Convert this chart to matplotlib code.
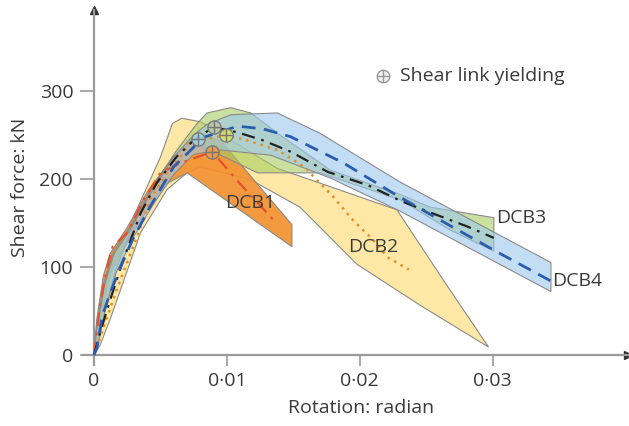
import matplotlib
matplotlib.use("Agg")
import matplotlib.pyplot as plt

plt.rcParams['font.family'] = ['Open Sans', 'DejaVu Sans']

# mean curves (rotation in rad, shear force in kN)
dcb1_x = [0, 0.0002, 0.0005, 0.0010, 0.0014, 0.0025, 0.0037, 0.0050, 0.0065,
          0.0089, 0.0112, 0.0133, 0.0136]
dcb1_v = [0, 25, 62, 100, 123, 139, 176, 207, 218, 231, 191, 157, 151]

dcb2_x = [0, 0.0008, 0.0017, 0.0035, 0.0042, 0.0055, 0.0067, 0.0072, 0.0099,
          0.0115, 0.0138, 0.0158, 0.0180, 0.0195, 0.0210, 0.0221, 0.0237]
dcb2_v = [0, 35, 74, 145, 176, 207, 229, 241, 250, 244, 233, 214, 180, 153,
          131, 111, 97]

dcb3_x = [0, 0.00045, 0.0012, 0.0022, 0.0035, 0.0047, 0.0062, 0.0075, 0.0090,
          0.0108, 0.0127, 0.0148, 0.0176, 0.0206, 0.0231, 0.0253, 0.0281,
          0.0301]
dcb3_v = [0, 25, 62, 108, 161, 195, 225, 244, 259, 253, 244, 231, 208, 193,
          175, 162, 146, 133]

dcb4_x = [0, 0.00023, 0.0006, 0.0012, 0.0020, 0.0029, 0.0042, 0.0060, 0.0075,
          0.0078, 0.0108, 0.0127, 0.0148, 0.0188, 0.0225, 0.0268, 0.0306,
          0.0344]
dcb4_v = [0, 9, 43, 70, 100, 131, 168, 214, 236, 245, 260, 257, 248, 218, 184,
          147, 115, 84]

# scatter envelopes: upper edge, then lower edge back to the origin
env1_up_x = [0, 0.0002, 0.0007, 0.0012, 0.0025, 0.0040, 0.0058, 0.0072, 0.0080,
             0.0095, 0.0149]
env1_up_v = [0, 40, 90, 115, 145, 185, 222, 242, 250, 244, 148]
env1_lo_x = [0.0149, 0.0070, 0.0055, 0.0040, 0.0025, 0.0013, 0.0006, 0.0002]
env1_lo_v = [123, 207, 195, 165, 128, 95, 50, 15]

env2_up_x = [0, 0.0002, 0.0007, 0.0014, 0.0025, 0.0033, 0.0050, 0.0059, 0.0066,
             0.0080, 0.0138, 0.0228, 0.0263, 0.0297]
env2_up_v = [0, 30, 80, 118, 140, 168, 225, 263, 269, 265, 212, 165, 85, 9]
env2_lo_x = [0.0297, 0.0246, 0.0198, 0.0155, 0.0118, 0.0080, 0.0070, 0.0055,
             0.0035, 0.0012, 0.00045]
env2_lo_v = [9, 56, 103, 168, 199, 214, 207, 188, 139, 40, 11]

env3_up_x = [0, 0.0002, 0.0008, 0.0015, 0.0027, 0.0042, 0.0061, 0.0077, 0.0085,
             0.0103, 0.0118, 0.0140, 0.0178, 0.0231, 0.0253, 0.0301]
env3_up_v = [0, 35, 85, 118, 145, 185, 230, 262, 275, 281, 275, 250, 210, 182,
             168, 156]
env3_lo_x = [0.0301, 0.0268, 0.0231, 0.0170, 0.0123, 0.0072, 0.0060, 0.0045,
             0.0030, 0.0016, 0.0008, 0.0003]
env3_lo_v = [118, 142, 176, 207, 207, 244, 225, 195, 150, 95, 50, 12]

env4_up_x = [0, 0.0002, 0.0008, 0.0015, 0.0027, 0.0042, 0.0060, 0.0075, 0.0085,
             0.0103, 0.0138, 0.0170, 0.0231, 0.0344]
env4_up_v = [0, 30, 80, 115, 142, 182, 225, 250, 262, 273, 275, 252, 196, 105]
env4_lo_x = [0.0344, 0.0231, 0.0178, 0.0133, 0.0095, 0.0075, 0.0060, 0.0045,
             0.0030, 0.0017, 0.0009, 0.0003]
env4_lo_v = [72, 163, 201, 227, 233, 228, 205, 172, 135, 95, 55, 12]

# shear link yielding points
yield_x = [0.0089, 0.0099, 0.0090, 0.0078]
yield_v = [231, 250, 259, 245]
yield_col = ['#f39a3c', '#d7e05a', '#b8c7a0', '#9fd3e8']

labels = ['DCB1', 'DCB2', 'DCB3', 'DCB4']
label_x = [0.0099, 0.0191, 0.0303, 0.0345]
label_v = [173, 123, 156, 84]

x_ticks = [0, 0.01, 0.02, 0.03]
x_tick_labels = ['0', '0·01', '0·02', '0·03']
y_ticks = [0, 100, 200, 300]

TXT = '#3a3a3a'
AX = '#9a9a9a'
EDGE = '#8a8a8a'

fig = plt.figure(figsize=(6.29, 4.26), dpi=100)
ax = fig.add_axes([0.132, 0.1432, 0.8664, 0.8333])

envs = [
    (env2_up_x + env2_lo_x, env2_up_v + env2_lo_v, '#ffe69c', 0.9, 1),
    (env1_up_x + env1_lo_x, env1_up_v + env1_lo_v, '#f39030', 0.92, 2),
    (env3_up_x + env3_lo_x, env3_up_v + env3_lo_v, '#a6cc62', 0.6, 3),
    (env4_up_x + env4_lo_x, env4_up_v + env4_lo_v, '#9cc8ee', 0.6, 4),
]
for ex, ev, col, a, z in envs:
    ax.fill(ex, ev, facecolor=col, alpha=a, edgecolor='none', zorder=z)
    ax.fill(ex, ev, facecolor='none', edgecolor=EDGE, lw=0.8, zorder=z)

ax.plot(dcb1_x, dcb1_v, color='#e8502a', lw=1.6, ls=(0, (6, 3, 1.2, 3)), zorder=6)
ax.plot(dcb2_x, dcb2_v, color='#e0902a', lw=1.8, ls=(0, (1, 2)), zorder=6)
ax.plot(dcb3_x, dcb3_v, color='#222222', lw=1.6, ls=(0, (6, 3, 1.2, 3)), zorder=6)
ax.plot(dcb4_x, dcb4_v, color='#2a5db0', lw=2.0, ls=(0, (5, 3)), zorder=6)

for x, v, c in zip(yield_x, yield_v, yield_col):
    ax.plot(x, v, 'o', ms=9.5, mfc=c, mec='#777777', mew=1.0, alpha=0.9, zorder=7)
    ax.plot(x, v, '+', ms=9.5, mec='#777777', mew=1.0, zorder=8)

for t, x, v in zip(labels, label_x, label_v):
    ax.text(x, v, t, fontsize=14, color=TXT, va='center', ha='left', zorder=9)

# legend entry
ax.plot(0.5505, 0.8145, 'o', ms=9, mfc='#f0f0f0', mec='#999999', mew=1.0,
        transform=ax.transAxes, clip_on=False)
ax.plot(0.5505, 0.8145, '+', ms=9, mec='#999999', mew=1.0,
        transform=ax.transAxes, clip_on=False)
ax.text(0.581, 0.8145, 'Shear link yielding', fontsize=14, color=TXT,
        va='center', ha='left', transform=ax.transAxes)

ax.set_xlim(-0.00083, 0.0402)
ax.set_ylim(-11.4, 392)
ax.spines['left'].set_position(('data', 0))
ax.spines['bottom'].set_position(('data', 0))
for s in ['top', 'right']:
    ax.spines[s].set_visible(False)
for s in ['left', 'bottom']:
    ax.spines[s].set_color(AX)
    ax.spines[s].set_linewidth(1.6)

ax.set_xticks(x_ticks)
ax.set_xticklabels(x_tick_labels)
ax.set_yticks(y_ticks)
ax.tick_params(axis='both', direction='out', color=AX, width=1.2,
               labelsize=14, labelcolor=TXT)
ax.tick_params(axis='x', length=8, pad=4)
ax.tick_params(axis='y', length=10, pad=5)

# arrow heads
ax.plot(1, 0, '>', ms=6, color='#333333', transform=ax.get_yaxis_transform(),
        clip_on=False)
ax.plot(0, 1, '^', ms=6, color='#333333', transform=ax.get_xaxis_transform(),
        clip_on=False)

fig.text(0.032, 0.56, 'Shear force: kN', rotation=90, fontsize=14, color=TXT,
         ha='center', va='center')
fig.text(0.574, 0.042, 'Rotation: radian', fontsize=14, color=TXT,
         ha='center', va='center')

fig.savefig('out.png', dpi=100)
